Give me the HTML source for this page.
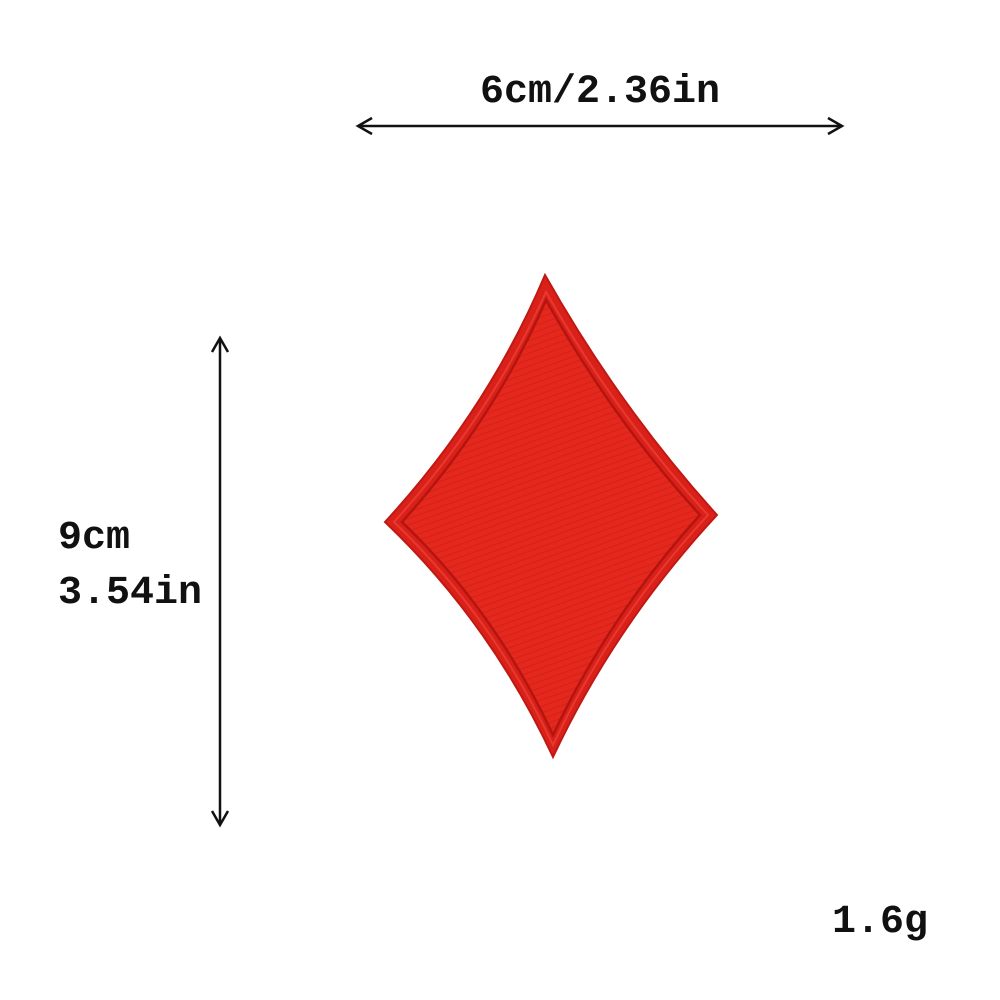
<!DOCTYPE html>
<html><head><meta charset="utf-8"><style>
html,body{margin:0;padding:0;background:#fff;}
svg{display:block;}
text{font-family:"Liberation Mono",monospace;font-size:40px;font-weight:bold;fill:#111;}
</style></head><body>
<svg width="1000" height="1000" viewBox="0 0 1000 1000">
<defs>
<pattern id="weave" width="6" height="6" patternUnits="userSpaceOnUse" patternTransform="rotate(-20)">
<rect width="6" height="6" fill="#e4281e"/>
<line x1="0" y1="3" x2="6" y2="3" stroke="#c81a12" stroke-width="1.2" opacity="0.5"/>
</pattern>
</defs>
<g><text x="600" y="102" text-anchor="middle">6cm/2.36in</text></g>
<g stroke="#111" stroke-width="2.5" fill="none">
<line x1="358" y1="126" x2="842" y2="126"/>
<polyline points="372,118 358,126 372,134"/>
<polyline points="828,118 842,126 828,134"/>
</g>
<g stroke="#111" stroke-width="2.5" fill="none">
<line x1="220" y1="338" x2="220" y2="825"/>
<polyline points="212,352 220,338 228,352"/>
<polyline points="212,811 220,825 228,811"/>
</g>
<text x="58" y="548">9cm</text>
<text x="58" y="603">3.54in</text>
<text x="832" y="932">1.6g</text>
<g>
<path d="M545,275 Q620,408 717,515 Q615,625 553,757 Q490,622 385,522 Q488,410 545,275 Z" fill="#d9211a" stroke="#c01812" stroke-width="2"/>
<path d="M546,300 Q613,420 700,515 Q610,614 553,735 Q496,612 402,522 Q494,420 546,300 Z" fill="url(#weave)" stroke="#b5150f" stroke-width="2.5"/>
<path d="M546,292 Q616,415 708,515 Q612,619 553,745 Q493,617 394,522 Q491,415 546,292 Z" fill="none" stroke="#f04a3e" stroke-width="2" opacity="0.6"/>
</g>
</svg>
</body></html>
